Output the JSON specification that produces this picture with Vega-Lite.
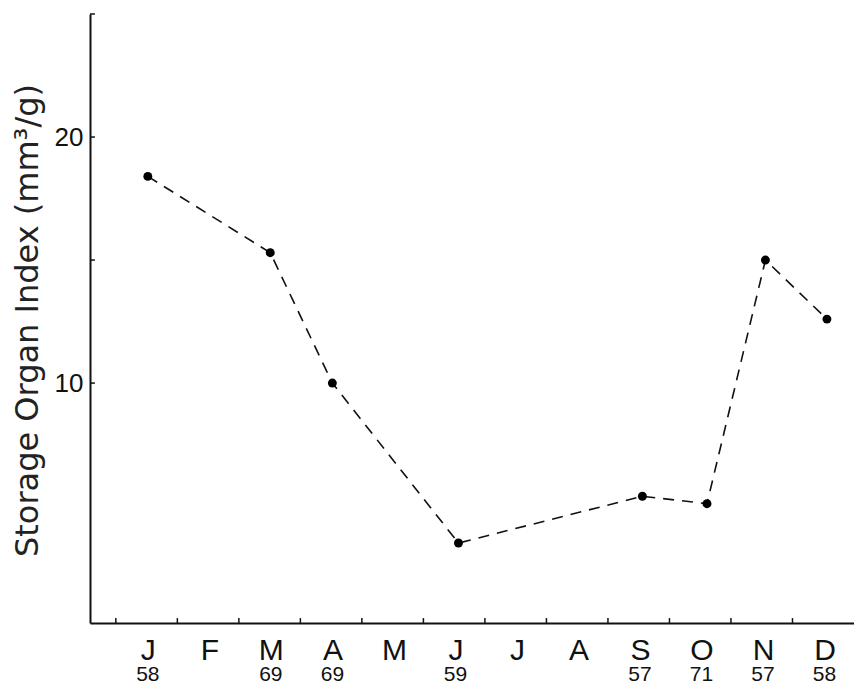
{
  "$schema": "https://vega.github.io/schema/vega-lite/v6.json",
  "width": 764,
  "height": 609,
  "autosize": {"type": "none"},
  "padding": {"left": 90, "top": 14, "right": 0, "bottom": 61},
  "background": "white",
  "config": {"view": {"stroke": null}, "font": "Liberation Sans"},
  "datasets": {
    "points": [
      {"pos": 0.52, "index": 18.4},
      {"pos": 2.51, "index": 15.3},
      {"pos": 3.52, "index": 10.0},
      {"pos": 5.57, "index": 3.5},
      {"pos": 8.56, "index": 5.4},
      {"pos": 9.61, "index": 5.1},
      {"pos": 10.56, "index": 15.0},
      {"pos": 11.56, "index": 12.6}
    ],
    "years": [
      {"m": 0, "yr": "58"},
      {"m": 2, "yr": "69"},
      {"m": 3, "yr": "69"},
      {"m": 5, "yr": "59"},
      {"m": 8, "yr": "57"},
      {"m": 9, "yr": "71"},
      {"m": 10, "yr": "57"},
      {"m": 11, "yr": "58"}
    ],
    "xticks": [
      {"b": 0}, {"b": 1}, {"b": 2}, {"b": 3}, {"b": 4}, {"b": 5},
      {"b": 6}, {"b": 7}, {"b": 8}, {"b": 9}, {"b": 10}, {"b": 11}
    ],
    "yticks": [{"v": 10}, {"v": 15}, {"v": 20}, {"v": 25}]
  },
  "layer": [
    {
      "data": {"name": "points"},
      "mark": {"type": "line", "strokeDash": [11, 8], "strokeWidth": 1.6, "color": "#111"},
      "encoding": {
        "x": {
          "field": "pos", "type": "quantitative",
          "scale": {"domain": [-0.42, 12], "nice": false, "zero": false},
          "axis": {
            "values": [0, 1, 2, 3, 4, 5, 6, 7, 8, 9, 10, 11],
            "labelExpr": "['J','F','M','A','M','J','J','A','S','O','N','D'][datum.value]",
            "labelOffset": 32,
            "ticks": false,
            "labelPadding": 12,
            "labelFontSize": 30,
            "labelColor": "#111",
            "labelFlush": false,
            "labelOverlap": false,
            "domainWidth": 2,
            "domainColor": "#111",
            "grid": false,
            "title": null
          }
        },
        "y": {
          "field": "index", "type": "quantitative",
          "scale": {"domain": [0.25, 25], "nice": false, "zero": false},
          "axis": {
            "values": [10, 15, 20, 25],
            "labelExpr": "datum.value == 10 || datum.value == 20 ? datum.label : ''",
            "ticks": false,
            "labelPadding": 7,
            "labelFontSize": 26,
            "labelColor": "#111",
            "labelFlush": false,
            "labelOverlap": false,
            "domainWidth": 2,
            "domainColor": "#111",
            "grid": false,
            "title": "Storage Organ Index (mm³/g)",
            "titleFont": "DejaVu Sans",
            "titleFontSize": 32,
            "titleFontWeight": "normal",
            "titleColor": "#222",
            "titleAngle": -90,
            "titleX": -53,
            "titleY": 306,
            "titleAlign": "center",
            "titleBaseline": "alphabetic"
          }
        }
      }
    },
    {
      "data": {"name": "xticks"},
      "mark": {"type": "rule", "color": "#111", "strokeWidth": 1.5},
      "encoding": {
        "x": {"field": "b", "type": "quantitative"},
        "y": {"datum": 0.25},
        "y2": {"datum": 0.45}
      }
    },
    {
      "data": {"name": "yticks"},
      "mark": {"type": "rule", "color": "#111", "strokeWidth": 1.5},
      "encoding": {
        "y": {"field": "v", "type": "quantitative"},
        "x": {"datum": -0.42},
        "x2": {"datum": -0.34}
      }
    },
    {
      "data": {"name": "points"},
      "mark": {"type": "point", "filled": true, "size": 80, "color": "#000", "opacity": 1},
      "encoding": {
        "x": {"field": "pos", "type": "quantitative"},
        "y": {"field": "index", "type": "quantitative"}
      }
    },
    {
      "data": {"name": "years"},
      "mark": {"type": "text", "dx": 32, "fontSize": 21, "baseline": "alphabetic", "align": "center", "color": "#111"},
      "encoding": {
        "x": {"field": "m", "type": "quantitative"},
        "y": {"datum": -2.12},
        "text": {"field": "yr"}
      }
    }
  ]
}
